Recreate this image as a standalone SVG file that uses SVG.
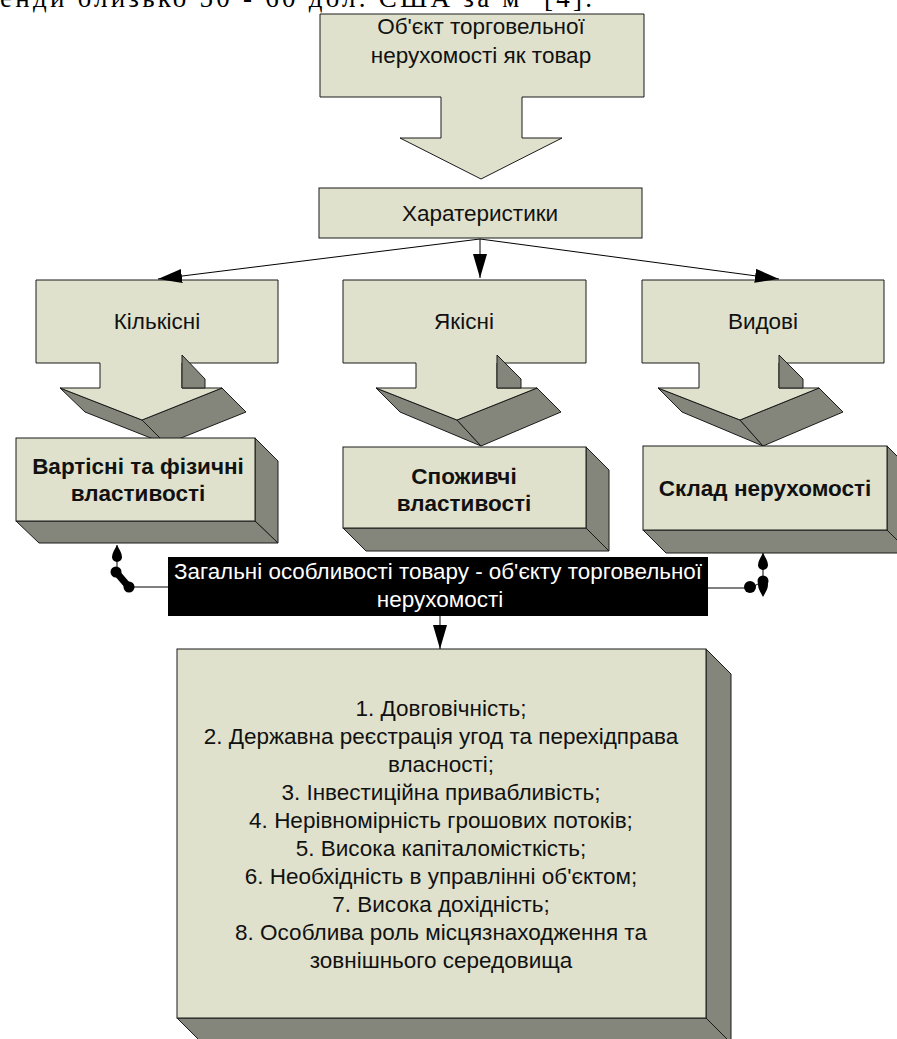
<svg xmlns="http://www.w3.org/2000/svg" width="897" height="1039" viewBox="0 0 897 1039">
<defs>
<style>
.lt{fill:#DFE1CC;stroke:#1a1a1a;stroke-width:1}
.dk{fill:#85867B;stroke:#1a1a1a;stroke-width:1}
.t{font-family:"Liberation Sans",Arial,sans-serif;font-size:22.5px;fill:#111;text-anchor:middle}
.b{font-family:"Liberation Sans",Arial,sans-serif;font-size:22.5px;font-weight:bold;fill:#111;text-anchor:middle}
.w{font-family:"Liberation Sans",Arial,sans-serif;font-size:22.5px;fill:#fff;text-anchor:middle}
.ln{fill:none;stroke:#000;stroke-width:1}
.blob{fill:#000;stroke:none}
</style>
<marker id="ah" markerUnits="userSpaceOnUse" markerWidth="26" markerHeight="16" refX="24" refY="7" orient="auto">
<path d="M0,0 L24,7 L0,14 z" fill="#000"/>
</marker>
</defs>
<rect width="897" height="1039" fill="#fff"/>
<text x="0" y="7" font-family="'Liberation Serif','Times New Roman',serif" font-size="27" fill="#000" textLength="592" lengthAdjust="spacing">енди близько 50 - 60 дол. США за м² [4].</text>

<g id="node-object">
<polygon class="lt" points="320,14 644,14 644,97 522,97 522,138 562,138 481,179 400,138 441,138 441,97 320,97"/>
<text class="t" x="481" y="34">Об'єкт торговельної</text>
<text class="t" x="481" y="63">нерухомості як товар</text>
</g>

<g id="node-characteristics">
<rect class="lt" x="319" y="188" width="323" height="50"/>
<text class="t" x="480" y="221">Харатеристики</text>
</g>

<g id="node-quantitative">
<polygon class="dk" points="60,388 85,412 166,444 142,420"/>
<polygon class="dk" points="142,420 222,388 246,412 166,444"/>
<polygon class="lt" points="36,280 278,280 278,363 182,363 182,388 222,388 142,420 60,388 100,388 100,363 36,363"/>
<polygon class="dk" points="182,355 205,379 205,388 182,388"/>
<text class="t" x="157" y="329">Кількісні</text>
</g>

<g id="node-qualitative">
<polygon class="dk" points="376,388 400,412 481,446 457,420"/>
<polygon class="dk" points="457,420 537,388 561,412 481,446"/>
<polygon class="lt" points="343,280 586,280 586,363 497,363 497,388 537,388 457,420 376,388 416,388 416,363 343,363"/>
<polygon class="dk" points="497,355 521,379 521,388 497,388"/>
<text class="t" x="464" y="329">Якісні</text>
</g>

<g id="node-species">
<polygon class="dk" points="658,388 682,412 763,446 740,420"/>
<polygon class="dk" points="740,420 819,388 843,412 763,446"/>
<polygon class="lt" points="642,280 884,280 884,363 779,363 779,388 819,388 740,420 658,388 699,388 699,363 642,363"/>
<polygon class="dk" points="779,355 803,379 803,388 779,388"/>
<text class="t" x="763" y="329">Видові</text>
</g>

<g id="node-value-physical">
<polygon class="dk" points="255,438 278,461 278,543 255,521"/>
<polygon class="dk" points="16,521 255,521 278,543 39,543"/>
<rect class="lt" x="16" y="438" width="239" height="83"/>
<text class="b" x="138" y="474">Вартісні та фізичні</text>
<text class="b" x="138" y="501">властивості</text>
</g>

<g id="node-consumer">
<polygon class="dk" points="586,447 609,470 609,551 586,528"/>
<polygon class="dk" points="343,528 586,528 609,551 366,551"/>
<rect class="lt" x="343" y="447" width="243" height="81"/>
<text class="b" x="464" y="484">Споживчі</text>
<text class="b" x="464" y="511">властивості</text>
</g>

<g id="node-composition">
<polygon class="dk" points="887,446 910,469 910,553 887,530"/>
<polygon class="dk" points="643,530 887,530 910,553 666,553"/>
<rect class="lt" x="643" y="446" width="244" height="84"/>
<text class="b" x="765" y="496">Склад нерухомості</text>
</g>

<g id="node-general">
<rect x="168" y="557" width="540" height="59" fill="#000"/>
<text class="w" x="438" y="579" textLength="528" lengthAdjust="spacingAndGlyphs">Загальні особливості товару - об'єкту торговельної</text>
<text class="w" x="440" y="607">нерухомості</text>
</g>

<g id="node-features">
<polygon class="dk" points="706,649 731,674 731,1043 706,1018"/>
<polygon class="dk" points="177,1018 706,1018 731,1043 202,1043"/>
<rect class="lt" x="177" y="649" width="529" height="369"/>
<text class="t" x="441" y="716">1. Довговічність;</text>
<text class="t" x="441" y="744">2. Державна реєстрація угод та перехідправа</text>
<text class="t" x="441" y="772">власності;</text>
<text class="t" x="441" y="800">3. Інвестиційна привабливість;</text>
<text class="t" x="441" y="828">4. Нерівномірність грошових потоків;</text>
<text class="t" x="441" y="856">5. Висока капіталомісткість;</text>
<text class="t" x="441" y="884">6. Необхідність в управлінні об'єктом;</text>
<text class="t" x="441" y="912">7. Висока дохідність;</text>
<text class="t" x="441" y="940">8. Особлива роль місцязнаходження та</text>
<text class="t" x="441" y="968">зовнішнього середовища</text>
</g>

<g id="connectors">
<line class="ln" x1="480" y1="239" x2="158" y2="279" marker-end="url(#ah)"/>
<line class="ln" x1="480" y1="239" x2="480" y2="278" marker-end="url(#ah)"/>
<line class="ln" x1="480" y1="239" x2="779" y2="279" marker-end="url(#ah)"/>
<line class="ln" x1="440" y1="616" x2="440" y2="649" marker-end="url(#ah)"/>
<path class="ln" d="M117,545 V573 L129,587 H168" stroke-width="1.5"/>
<path class="blob" d="M117,545 C115,549 112,553 112,557 A5,5 0 0 0 122,557 C122,553 119,549 117,545 z"/>
<circle class="blob" cx="116" cy="572" r="5.5"/>
<line x1="116" y1="572" x2="128" y2="586" stroke="#000" stroke-width="7" stroke-linecap="round"/>
<circle class="blob" cx="129" cy="587" r="5.5"/>
<path class="ln" d="M763,553 V581 L751,588 H708" stroke-width="1.5"/>
<path class="blob" d="M763,553 C761,557 758,561 758,565 A5,5 0 0 0 768,565 C768,561 765,557 763,553 z"/>
<circle class="blob" cx="763" cy="581" r="5.5"/>
<circle class="blob" cx="750" cy="587" r="6"/>
<path class="blob" d="M763,597 C761,593 758,589 758,585 A5,5 0 0 1 768,585 C768,589 765,593 763,597 z"/>
</g>
</svg>
